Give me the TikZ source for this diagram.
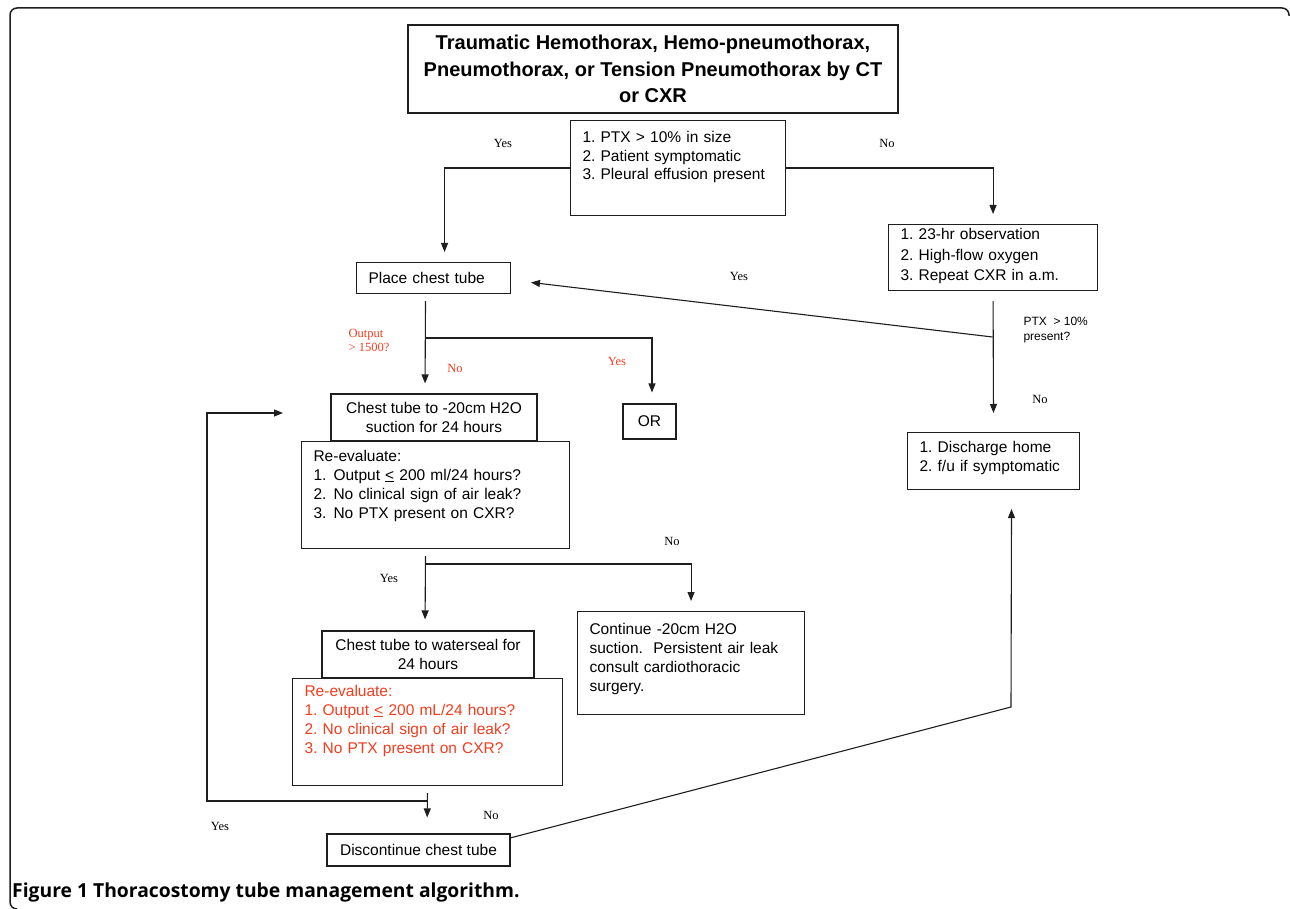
\documentclass[tikz,border=0pt]{standalone}
\usepackage{fontspec}
\setmainfont{Liberation Sans}
\newfontfamily\ynfont{Liberation Serif}
\newfontfamily\capfont{Open Sans}
\usetikzlibrary{arrows.meta,calc,positioning}
\definecolor{FlowInk}{HTML}{1E1E1E}
\definecolor{FlowRed}{HTML}{F23C1E}
\frenchspacing

\begin{document}
\begin{tikzpicture}[
      x=1pt,y=-1pt,
      box/.style={draw=FlowInk,line width=1.1pt,inner sep=0pt,
        font=\fontsize{15.5}{19}\selectfont},
      cbox/.style={box,align=center},
      listbox/.style={box,anchor=north west,align=left,inner xsep=12pt},
      arrow/.style={-{Triangle[length=9pt,width=7pt]},line width=1.1pt,draw=FlowInk},
      yn/.style={font=\ynfont\fontsize{12.5}{14}\selectfont},
      ynred/.style={yn,text=FlowRed}
    ]
      \useasboundingbox (0,0) rectangle (1290,909);
      % frame of the figure
      \draw[line width=1.5pt,draw=FlowInk,rounded corners=7pt]
        (17,909) -| (10,8) -| (1289,16);

      % boxes
      \node[cbox,line width=1.8pt,minimum width=490pt,minimum height=88pt,
        font=\bfseries\fontsize{20}{26.5}\selectfont] (title) at (653,69)
        {Traumatic Hemothorax, Hemo-pneumothorax,\\
         Pneumothorax, or Tension Pneumothorax by CT\\ or CXR};
      \node[listbox,inner ysep=11pt,text width=191pt,text depth=61.7pt,
        font=\fontsize{15.5}{18.5}\selectfont] (crit) at (570,120)
        {1. PTX > 10\% in size\\2. Patient symptomatic\\3. Pleural effusion present};
      \node[listbox,inner ysep=9.85pt,text width=130pt] (place) at (356,262)
        {Place chest tube};
      \node[listbox,inner ysep=4pt,text width=185pt,text depth=46.7pt,
        font=\fontsize{15.5}{20.5}\selectfont] (obs) at (888,224)
        {1. 23-hr observation\\2. High-flow oxygen\\3. Repeat CXR in a.m.};
      \node[cbox,minimum width=53pt,minimum height=35pt] (orbox) at (649.5,421.5) {OR};
      \node[cbox,minimum width=206pt,minimum height=47pt] (suction) at (434,417.5)
        {Chest tube to -20cm H2O\\suction for 24 hours};
      \node[listbox,inner ysep=8.5pt,text width=244pt,text depth=78.7pt] (reeval) at (301,441)
        {Re-evaluate:\\
         \makebox[20pt][l]{1.}Output \underline{<} 200 ml/24 hours?\\
         \makebox[20pt][l]{2.}No clinical sign of air leak?\\
         \makebox[20pt][l]{3.}No PTX present on CXR?};
      \node[listbox,inner ysep=9pt,text width=148pt,text depth=27.7pt] (home) at (907,432)
        {1. Discharge home\\2. f/u if symptomatic};
      \node[listbox,inner ysep=11.5pt,text width=203pt,text depth=68.7pt] (cont) at (577,611)
        {Continue -20cm H2O\\suction.\ \ Persistent air leak\\consult cardiothoracic\\surgery.};
      \node[cbox,minimum width=212pt,minimum height=47pt] (water) at (428,654.5)
        {Chest tube to waterseal for\\24 hours};
      \node[listbox,inner ysep=6.5pt,text width=246pt,text depth=82.7pt,text=FlowRed] (reevalb) at (292,678)
        {Re-evaluate:\\1. Output \underline{<} 200 mL/24 hours?\\
         2. No clinical sign of air leak?\\3. No PTX present on CXR?};
      \node[cbox,minimum width=183pt,minimum height=32pt] (disc) at (418.5,850)
        {Discontinue chest tube};

      % turning points
      \coordinate (outq) at (425,338);
      \coordinate (ptxq) at (992.5,337);
      \coordinate (leakq) at (425,564);
      \coordinate (loopq) at (427,801);
      \coordinate (loopcorner) at (207,413);
      \coordinate (looptip) at (283,413);
      \coordinate (discq) at (510,838);
      \coordinate (homeq) at (1011,707);

      % connectors
      \draw[arrow,shorten >=10pt] (crit.west) -| ($(place.north)+(11,0)$);
      \draw[arrow,shorten >=10pt] (crit.east) -| (obs.north);
      \draw[arrow,shorten <=7pt,shorten >=10pt] ($(place.south)+(-8,0)$) -- ($(suction.north)+(-9,0)$);
      \draw[arrow,shorten >=11pt] (outq) -| ($(orbox.north)+(2.5,0)$);
      \draw[arrow,shorten <=10pt,shorten >=19pt] (obs.south) -- (home.north);
      \draw[arrow,shorten >=20pt] (ptxq) -- ($(place.east)+(0,2)$);
      \draw[arrow,shorten <=7pt,shorten >=11pt] ($(reeval.south)+(-10,0)$) -- ($(water.north)+(-3,0)$);
      \draw[arrow,shorten >=10pt] (leakq) -| (cont.north);
      \draw[arrow,shorten <=7pt,shorten >=16pt] (reevalb.south) -- ($(disc.north)+(8.5,0)$);
      \draw[arrow] (loopq) -| (loopcorner) -- (looptip);
      \draw[arrow,shorten >=19pt] (discq) -- (homeq) -- ($(home.south)+(18,0)$);

      % labels
      \node[yn] (yesa) at (503,143) {Yes};
      \node[yn] (noa) at (887,143) {No};
      \node[yn] (yesb) at (739,276) {Yes};
      \node[ynred,align=left] (outlbl) at (369,340) {Output\\> 1500?};
      \node[ynred] (nob) at (455,368) {No};
      \node[ynred] (yesc) at (617,361) {Yes};
      \node[align=left,anchor=west,font=\fontsize{12}{15}\selectfont] (ptxlbl) at (1020,330)
        {PTX\ \ > 10\%\\present?};
      \node[yn] (noc) at (1040,399) {No};
      \node[yn] (nod) at (672,541) {No};
      \node[yn] (yesd) at (389,578) {Yes};
      \node[yn] (yese) at (220,826) {Yes};
      \node[yn] (noe) at (491,815) {No};

      \node[anchor=base west,inner sep=0pt,font=\capfont\bfseries\fontsize{19.3}{21}\selectfont] (caption) at (12,897)
        {Figure 1 Thoracostomy tube management algorithm.};
    \end{tikzpicture}
\end{document}
